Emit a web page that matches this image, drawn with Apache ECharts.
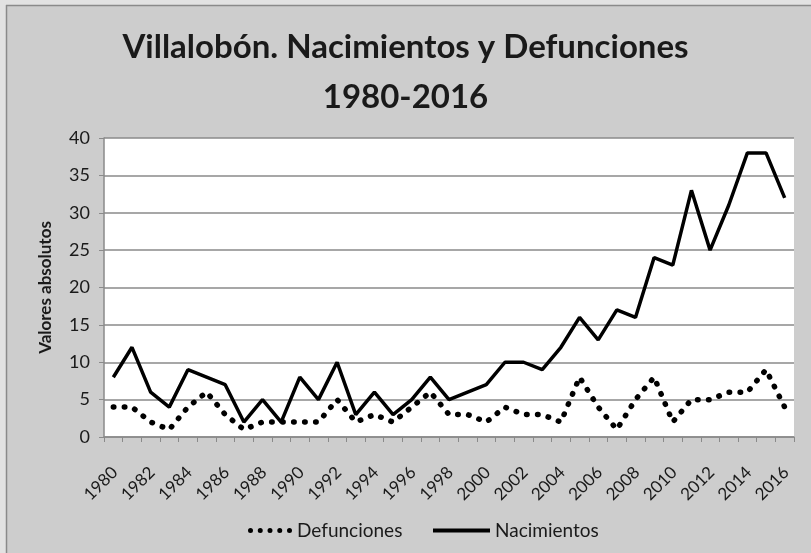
<!DOCTYPE html>
<html>
<head>
<meta charset="utf-8">
<title>Villalobón. Nacimientos y Defunciones 1980-2016</title>
<script src="https://cdn.jsdelivr.net/npm/echarts@6/dist/echarts.min.js"></script>
<style>
html, body { margin: 0; padding: 0; background: #cdcdcd; }
#chart { width: 811px; height: 553px; }
</style>
</head>
<body>
<div id="chart"></div>
<script>
// años 1980-2016
const years = ['1980','1981','1982','1983','1984','1985','1986','1987','1988','1989',
	'1990','1991','1992','1993','1994','1995','1996','1997','1998','1999',
	'2000','2001','2002','2003','2004','2005','2006','2007','2008','2009',
	'2010','2011','2012','2013','2014','2015','2016']

const defunciones = [4, 4, 2, 1, 4, 6, 3, 1, 2, 2,
	2, 2, 5, 2, 3, 2, 4, 6, 3, 3,
	2, 4, 3, 3, 2, 8, 4, 1, 5, 8,
	2, 5, 5, 6, 6, 9, 4]

const nacimientos = [8, 12, 6, 4, 9, 8, 7, 2, 5, 2,
	8, 5, 10, 3, 6, 3, 5, 8, 5, 6,
	7, 10, 10, 9, 12, 16, 13, 17, 16, 24,
	23, 33, 25, 31, 38, 38, 32]

const yTicks = { min: 0, max: 40, interval: 5 }

const font = 'Lato, "Open Sans", sans-serif'
const gris = '#8a8a8a'

// icono de puntos para la leyenda (5 círculos)
const dotsIcon = 'path://M0,2.5a2.5,2.5 0 1,0 5,0a2.5,2.5 0 1,0 -5,0'
	+ 'M9.75,2.5a2.5,2.5 0 1,0 5,0a2.5,2.5 0 1,0 -5,0'
	+ 'M19.5,2.5a2.5,2.5 0 1,0 5,0a2.5,2.5 0 1,0 -5,0'
	+ 'M29.25,2.5a2.5,2.5 0 1,0 5,0a2.5,2.5 0 1,0 -5,0'
	+ 'M39,2.5a2.5,2.5 0 1,0 5,0a2.5,2.5 0 1,0 -5,0'

const legendText = { fontFamily: font, fontSize: 19, color: '#1a1a1a' }

const chart = echarts.init(document.getElementById('chart'))

const option = {
	backgroundColor: '#cdcdcd',
	animation: false,
	title: {
		text: 'Villalobón. Nacimientos y Defunciones\n1980-2016',
		left: 'center',
		top: 17,
		textStyle: {
			fontFamily: font,
			fontSize: 33,
			fontWeight: 'bold',
			color: '#1a1a1a',
			lineHeight: 50,
		},
	},
	graphic: [
		{ type: 'rect', shape: { x: 0, y: 0, width: 811, height: 5 }, style: { fill: '#e2e2e2' }, z: -1 },
		{ type: 'rect', shape: { x: 0, y: 0, width: 6, height: 553 }, style: { fill: '#e2e2e2' }, z: -1 },
		{ type: 'line', shape: { x1: 6, y1: 5.5, x2: 811, y2: 5.5 }, style: { stroke: gris, lineWidth: 1.5 } },
		{ type: 'line', shape: { x1: 6.5, y1: 5, x2: 6.5, y2: 553 }, style: { stroke: gris, lineWidth: 1.5 } },
	],
	legend: [
		{
			top: 516,
			left: 243,
			padding: 5,
			itemWidth: 44,
			itemHeight: 5,
			textStyle: legendText,
			data: [{ name: 'Defunciones', icon: dotsIcon }],
		},
		{
			top: 516,
			left: 428,
			padding: 5,
			itemWidth: 57,
			itemHeight: 4,
			textStyle: legendText,
			data: [{ name: 'Nacimientos', icon: 'rect' }],
		},
	],
	grid: {
		left: 104,
		right: 17,
		top: 138,
		bottom: 116,
		show: true,
		backgroundColor: '#ffffff',
		borderWidth: 0,
	},
	xAxis: {
		type: 'category',
		data: years,
		boundaryGap: true,
		axisLine: { lineStyle: { color: gris, width: 1.5 } },
		axisTick: { show: true, interval: 0, length: 5, lineStyle: { color: gris } },
		axisLabel: {
			interval: 1,
			rotate: 45,
			margin: 34,
			padding: [0, -2, 0, 0],
			fontFamily: font,
			fontSize: 17,
			color: '#1a1a1a',
		},
	},
	yAxis: {
		type: 'value',
		min: yTicks.min,
		max: yTicks.max,
		interval: yTicks.interval,
		name: 'Valores absolutos',
		nameLocation: 'middle',
		nameGap: 50,
		nameTextStyle: { fontFamily: font, fontSize: 17, fontWeight: 'bold', color: '#1a1a1a' },
		axisLine: { show: true, lineStyle: { color: gris, width: 1.5 } },
		axisTick: { show: true, length: 5, lineStyle: { color: gris } },
		axisLabel: { fontFamily: font, fontSize: 18, color: '#1a1a1a', margin: 14 },
		splitLine: { lineStyle: { color: gris, width: 1.5 } },
	},
	series: [
		{
			name: 'Defunciones',
			type: 'line',
			data: defunciones,
			showSymbol: false,
			symbol: 'none',
			lineStyle: { color: '#000', width: 5.5, type: [0.5, 10.5], cap: 'round' },
			itemStyle: { color: '#000' },
		},
		{
			name: 'Nacimientos',
			type: 'line',
			data: nacimientos,
			showSymbol: false,
			symbol: 'none',
			lineStyle: { color: '#000', width: 3.5 },
			itemStyle: { color: '#000' },
		},
	],
}

chart.setOption(option)
</script>
</body>
</html>
